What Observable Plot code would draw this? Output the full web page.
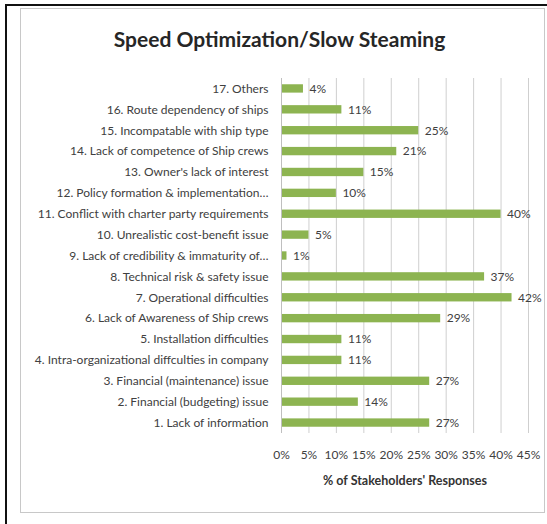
<!DOCTYPE html>
<html>
<head>
<meta charset="utf-8">
<script src="https://cdn.jsdelivr.net/npm/d3@7"></script>
<script src="https://cdn.jsdelivr.net/npm/@observablehq/plot@0.6"></script>
<style>
  html, body { margin: 0; padding: 0; background: #fff; }
  #wrap { position: relative; width: 547px; height: 524px; overflow: hidden; background: #fff; }
  #outer { position: absolute; left: 5px; top: 4px; width: 560px; height: 540px; border-left: 2px solid #111; border-top: 2px solid #111; }
  #inner { position: absolute; left: 20px; top: 8px; width: 523px; height: 503px; border: 1px solid #c8c8c8; }
  #title { position: absolute; left: 0; width: 559px; top: 26px; text-align: center; font-family: Lato, sans-serif; font-weight: bold; font-size: 21px; color: #262626; }
  #chart { position: absolute; left: 0; top: 0; }
</style>
</head>
<body>
<div id="wrap">
  <div id="outer"></div>
  <div id="inner"></div>
  <div id="title">Speed Optimization/Slow Steaming</div>
  <div id="chart"></div>
</div>
<script>
const categories = [
  "1. Lack of information",
  "2. Financial (budgeting) issue",
  "3. Financial (maintenance) issue",
  "4. Intra-organizational diffculties in company",
  "5. Installation difficulties",
  "6. Lack of Awareness of Ship crews",
  "7. Operational difficulties",
  "8. Technical risk & safety issue",
  "9. Lack of credibility & immaturity of…",
  "10. Unrealistic cost-benefit issue",
  "11. Conflict with charter party requirements",
  "12. Policy formation & implementation…",
  "13. Owner's lack of interest",
  "14. Lack of competence of Ship crews",
  "15. Incompatable with ship type",
  "16. Route dependency of ships",
  "17. Others"
];
const values = [27, 14, 27, 11, 11, 29, 42, 37, 1, 5, 40, 10, 15, 21, 25, 11, 4];
const xTicks = [0, 5, 10, 15, 20, 25, 30, 35, 40, 45];

const data = categories.map((c, i) => ({category: c, value: values[i]}));

const chart = Plot.plot({
  width: 547,
  height: 524,
  marginLeft: 281,
  marginRight: 19,
  marginTop: 78,
  marginBottom: 91,
  style: {fontFamily: "Lato, sans-serif", fontSize: "12px", color: "#404040", background: "transparent"},
  x: {domain: [0, 45]},
  y: {domain: categories.slice().reverse(), paddingInner: 0.6, paddingOuter: 0.3, round: false},
  marks: [
    Plot.gridX(xTicks, {stroke: "#cfcfcf", strokeOpacity: 1}),
    Plot.barX(data, {x: "value", y: "category", fill: "#8db451"}),
    Plot.text(data, {x: "value", y: "category", text: d => d.value + "%", textAnchor: "start", dx: 6, fill: "#404040", fontSize: 12}),
    Plot.ruleX([0], {stroke: "#bfbfbf"}),
    Plot.axisY({tickSize: 0, tickPadding: 13, label: null, fill: "#404040", fontSize: 12}),
    Plot.axisX({ticks: xTicks, tickSize: 0, tickPadding: 17, tickFormat: d => d + "%", fontSize: 12, fill: "#404040",
      label: "% of Stakeholders' Responses", labelAnchor: "center", labelArrow: "none", labelOffset: 51})
  ]
});
document.getElementById("chart").appendChild(chart);
d3.select(chart).selectAll("[aria-label='x-axis label'] text").style("font-weight", "bold").style("font-size", "12.5px").style("fill", "#333");
</script>
</body>
</html>
